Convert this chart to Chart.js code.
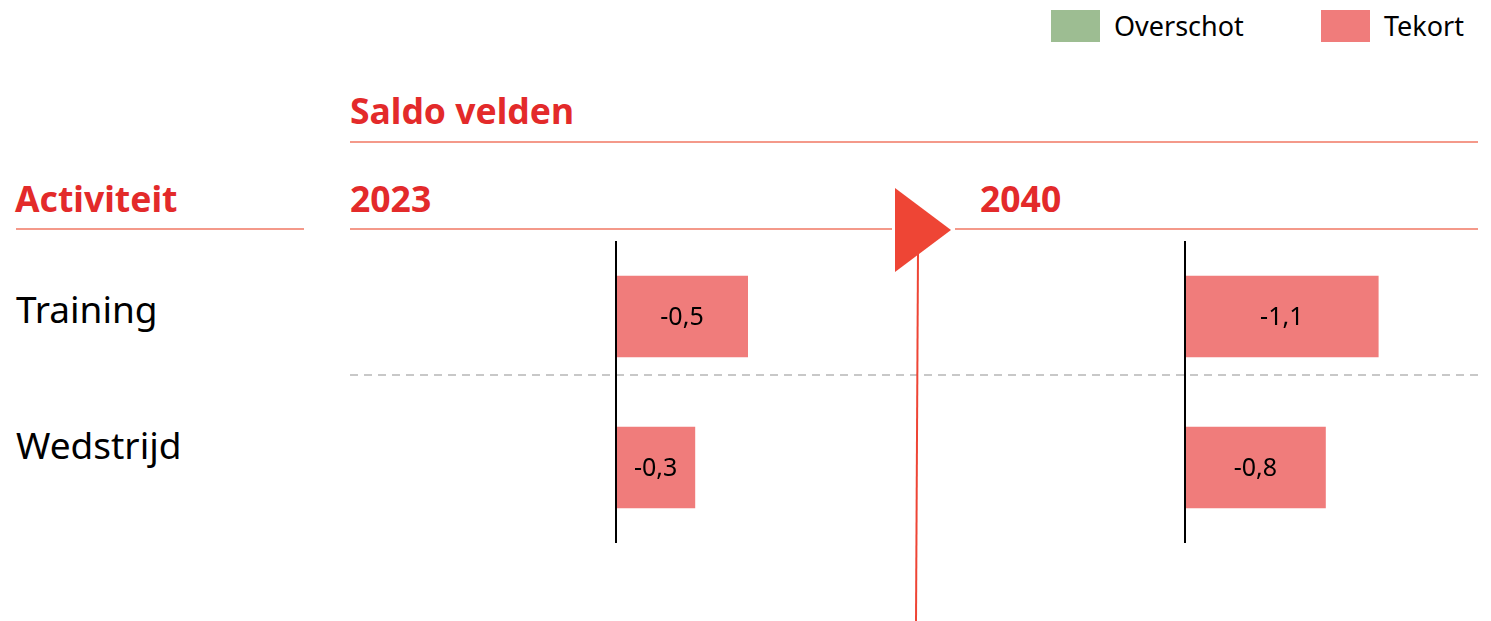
<!DOCTYPE html>
<html>
<head>
<meta charset="utf-8">
<script src="https://cdn.jsdelivr.net/npm/chart.js@4.4.1/dist/chart.umd.min.js"></script>
<style>
  html, body { margin: 0; padding: 0; background: #fff; }
  #page { position: relative; width: 1491px; height: 621px; overflow: hidden; font-family: "Noto Sans", "Open Sans", sans-serif; }
  .head { position: absolute; color: #e32a2a; font-weight: bold; font-size: 35.5px; line-height: 1; white-space: nowrap; }
  .row { position: absolute; color: #000; font-size: 37px; line-height: 1; white-space: nowrap; }
  .leg { position: absolute; font-size: 27px; line-height: 1; color: #000; white-space: nowrap; }
  .sw { position: absolute; width: 49px; height: 32px; }
  canvas { position: absolute; }
  svg { position: absolute; left: 0; top: 0; }
</style>
</head>
<body>
<div id="page">
  <svg width="1491" height="621">
    <line x1="350" y1="142" x2="1478" y2="142" stroke="#f4998a" stroke-width="2"/>
    <line x1="16" y1="229" x2="304" y2="229" stroke="#f4998a" stroke-width="2"/>
    <line x1="350" y1="229" x2="892" y2="229" stroke="#f4998a" stroke-width="2"/>
    <line x1="955" y1="229" x2="1478" y2="229" stroke="#f4998a" stroke-width="2"/>
    <line x1="350" y1="375" x2="1478" y2="375" stroke="#c8c8c8" stroke-width="2" stroke-dasharray="8,6"/>
    <line x1="918" y1="252" x2="916" y2="621" stroke="#ee4535" stroke-width="2"/>
    <polygon points="895,188 895,272 951,230" fill="#ee4535"/>
  </svg>

  <div class="sw" style="left:1051px; top:10px; background:#9dbd92;"></div>
  <div class="leg" style="left:1114px; top:12px;">Overschot</div>
  <div class="sw" style="left:1321px; top:10px; background:#f07c7b;"></div>
  <div class="leg" style="left:1384px; top:12px;">Tekort</div>

  <div class="head" style="left:350px; top:93px;">Saldo velden</div>
  <div class="head" style="left:15px; top:181px;">Activiteit</div>
  <div class="head" style="left:350px; top:181px;">2023</div>
  <div class="head" style="left:980px; top:181px;">2040</div>

  <div class="row" style="left:16px; top:290px;">Training</div>
  <div class="row" style="left:16px; top:426px;">Wedstrijd</div>

  <canvas id="chart2023" style="left:600px; top:241px;" width="280" height="302"></canvas>
  <canvas id="chart2040" style="left:1169px; top:241px;" width="280" height="302"></canvas>
</div>

<script>
const activities = ['Training', 'Wedstrijd'];
const tekort2023 = [-0.5, -0.3];
const tekort2040 = [-1.1, -0.8];
const overschot2023 = [null, null];
const overschot2040 = [null, null];

// zero line + value labels inside the bars
const barDecor = {
    id: 'barDecor',
    afterDatasetsDraw(chart) {
        const ctx = chart.ctx;
        const x0 = chart.scales.x.getPixelForValue(0);
        ctx.save();
        ctx.strokeStyle = '#000';
        ctx.lineWidth = 2;
        ctx.beginPath();
        ctx.moveTo(x0, chart.chartArea.top);
        ctx.lineTo(x0, chart.chartArea.bottom);
        ctx.stroke();

        ctx.fillStyle = '#000';
        ctx.font = '25px "Noto Sans", sans-serif';
        ctx.textAlign = 'center';
        ctx.textBaseline = 'middle';
        chart.data.datasets.forEach((ds, i) => {
            chart.getDatasetMeta(i).data.forEach((bar, j) => {
                const v = ds.data[j];
                if (v === null) return;
                const label = v.toFixed(1).replace('.', ',');
                ctx.fillText(label, (bar.x + bar.base) / 2, bar.y + 1);
            });
        });
        ctx.restore();
    }
};

function makeChart(id, overschot, tekort, minValue) {
    new Chart(document.getElementById(id), {
        type: 'bar',
        data: {
            labels: activities,
            datasets: [
                { label: 'Overschot', data: overschot, backgroundColor: '#9dbd92' },
                { label: 'Tekort', data: tekort, backgroundColor: '#f07c7b' }
            ]
        },
        options: {
            indexAxis: 'y',
            responsive: false,
            animation: false,
            grouped: false,
            barPercentage: 1,
            categoryPercentage: 0.54,
            layout: { padding: { left: 16, right: 0, top: 0, bottom: 0 } },
            scales: {
                x: { display: false, reverse: true, min: minValue, max: 0 },
                y: { display: false }
            },
            plugins: {
                legend: { display: false },
                tooltip: { enabled: false }
            }
        },
        plugins: [barDecor]
    });
}

makeChart('chart2023', overschot2023, tekort2023, -1);
makeChart('chart2040', overschot2040, tekort2040, -1.5);
</script>
</body>
</html>
